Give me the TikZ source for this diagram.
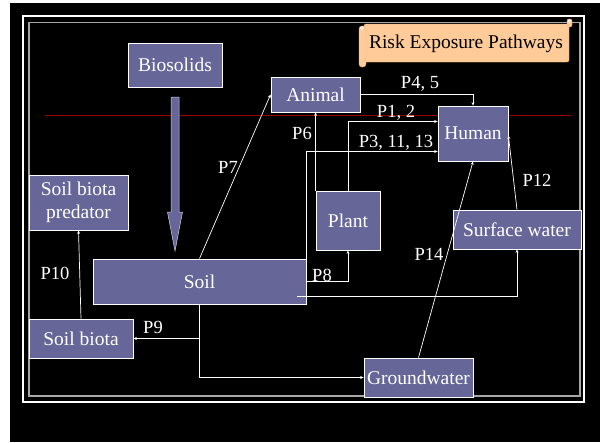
\documentclass[tikz,border=0pt]{standalone}
\usepackage{fontspec}
\setmainfont{Liberation Serif}
\usetikzlibrary{arrows.meta}
\definecolor{boxfill}{HTML}{666699}
\definecolor{scrollfill}{HTML}{FFCC99}
\definecolor{scrolledge}{HTML}{F2B27A}
\definecolor{redline}{HTML}{990000}
\begin{document}
\begin{tikzpicture}[x=1pt, y=-1pt, >={Stealth[length=3.5pt,width=3pt]},
    main/.style = {draw=white, line width=0.8pt, fill=boxfill, text=white, inner sep=0pt, align=center, font=\fontsize{19.5}{23.5}\selectfont},
    lab/.style = {text=white, inner sep=0pt, font=\fontsize{18.5}{22}\selectfont},
    link/.style = {->, draw=white, line width=0.7pt}]
    \useasboundingbox (0,0) rectangle (600,442);
    % Sfondo e cornice
    \fill[white] (0,0) rectangle (600,442);
    \fill[black] (10,3) rectangle (600,442);
    \draw[white, line width=2pt] (23,16) rectangle (584,402);
    \draw[gray!70, line width=1.2pt] (29,22.5) rectangle (580,396);
    \draw[redline, line width=0.8pt] (45,115) -- (572,115);

    % Titolo (pergamena)
    \filldraw[fill=scrollfill, draw=scrolledge, rounded corners=2pt] (364,24) rectangle (569,62);
    \filldraw[fill=scrollfill, draw=scrolledge, rounded corners=3pt] (359,26) rectangle (366,67);
    \filldraw[fill=scrollfill, draw=scrolledge, rounded corners=2pt] (567,19) rectangle (572,27);
    \draw[white, line width=0.5pt] (362,28) circle (1.5);
    \draw[white, line width=0.5pt] (569.5,21) circle (1.5);
    \node[text=black, inner sep=0pt, font=\fontsize{19.5}{23.5}\selectfont] (title) at (466,44) {Risk Exposure Pathways};

    % Disegna i nodi
    \node[main, minimum width=94pt, minimum height=44pt] (biosolids) at (175,65) {Biosolids};
    \node[main, minimum width=89pt, minimum height=35pt] (animal) at (315.5,94.5) {Animal};
    \node[main, minimum width=70pt, minimum height=55pt] (human) at (473,133.5) {Human};
    \node[main, minimum width=99pt, minimum height=55pt] (predator) at (78.5,202.5) {Soil biota\\predator};
    \node[main, minimum width=64pt, minimum height=59pt] (plant) at (348,220.5) {Plant};
    \node[main, minimum width=128pt, minimum height=39pt] (surface) at (517,229.5) {Surface water};
    \node[main, minimum width=213pt, minimum height=45pt] (soil) at (199.5,281.5) {Soil};
    \node[main, minimum width=104pt, minimum height=39pt] (biota) at (81,338.5) {Soil biota};
    \node[main, minimum width=109pt, minimum height=39pt] (groundwater) at (418.5,377.5) {Groundwater};

    % Freccia grande biosolidi -> suolo
    \filldraw[fill=boxfill, draw=white!70!boxfill, line width=0.5pt] (171,97) -- (179,97) -- (179,212) -- (182.5,212) -- (175,251) -- (167.5,212) -- (171,212) -- cycle;

    % Disegna gli archi orientati
    \draw[link] (animal.east) -| (human.north);
    \draw[link] (plant.north) |- ([yshift=12pt]human.west);
    \draw[link] (soil.east) |- ([yshift=-18pt]human.west);
    \draw[link] (plant.north west) -- (plant.north west |- animal.south);
    \draw[link] (soil.north) -- (animal.west);
    \draw[link] (soil.east) -| (plant.south);
    \draw[link] ([xshift=-9pt,yshift=-15pt]soil.east) -| (surface.south);
    \draw[link] (soil.south) |- (biota.east);
    \draw[link] (soil.south) |- (groundwater.west);
    \draw[link] (biota.north) -- (predator.south);
    \draw[link] (surface.north) -- ([yshift=-2pt]human.east);
    \draw[link] (groundwater.north) -- (human.south);

    % Etichette dei percorsi
    \node[lab] (p45) at (420,84) {P4, 5};
    \node[lab] (p12) at (396,113) {P1, 2};
    \node[lab] (p31113) at (396,143) {P3, 11, 13};
    \node[lab] (p6) at (302,133) {P6};
    \node[lab] (p7) at (228,167) {P7};
    \node[lab] (p8) at (322,275) {P8};
    \node[lab] (p10) at (55,273) {P10};
    \node[lab] (p9) at (153,327) {P9};
    \node[lab] (p14) at (429,254) {P14};
    \node[lab] (p1x2) at (537,180) {P12};
\end{tikzpicture}
\end{document}
